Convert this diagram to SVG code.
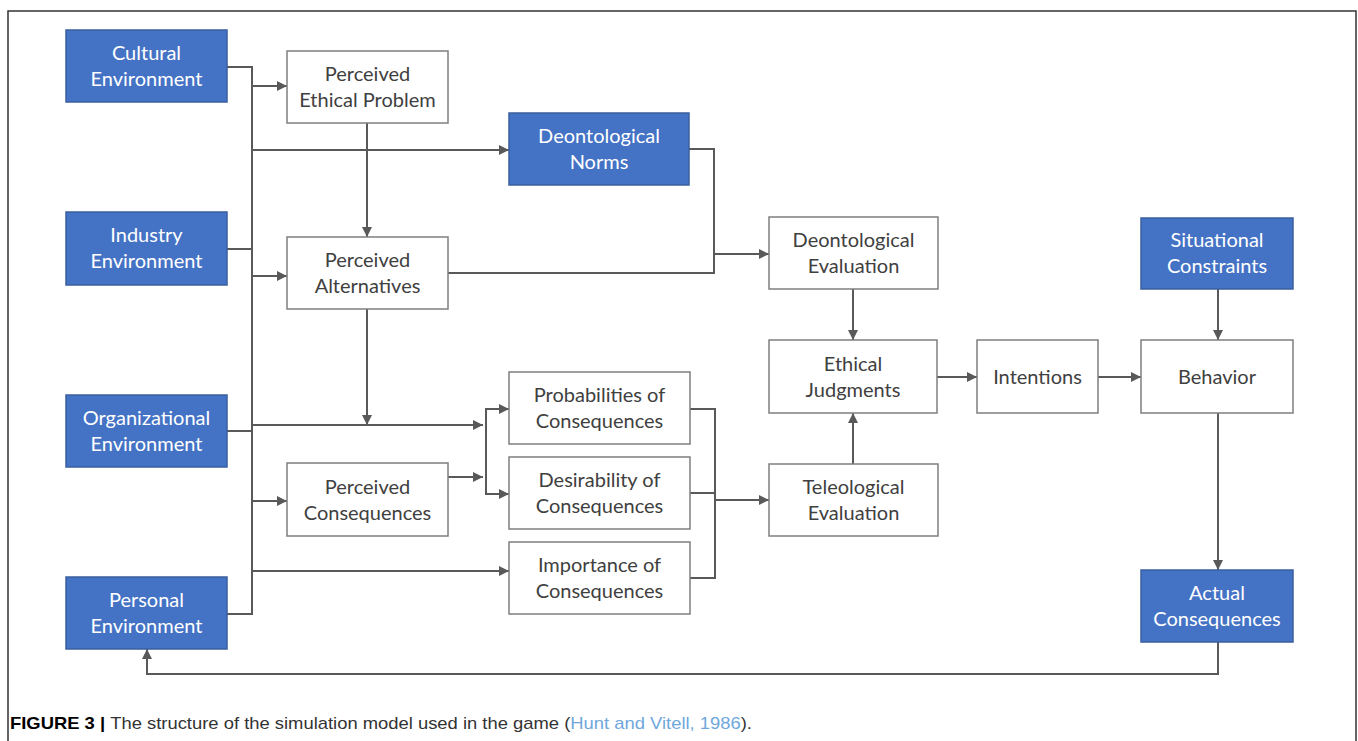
<svg xmlns="http://www.w3.org/2000/svg" width="1358" height="741" viewBox="0 0 1358 741">
<style>
.b rect{fill:#4472C4;stroke:#3a5f9f;stroke-width:1.5}
.w rect{fill:#fff;stroke:#7f7f7f;stroke-width:1.5}
.b text{fill:#fff}
.w text{fill:#404040}
text{font-family:Lato,"Open Sans",sans-serif;font-size:20px;text-anchor:middle}
#conn path{fill:none;stroke:#595959;stroke-width:2}
.cap{font-family:"Liberation Sans",Arial,sans-serif;font-size:17px;text-anchor:start}
</style>
<defs>
<marker id="ah" viewBox="0 0 10 10" refX="10" refY="5" markerWidth="5" markerHeight="5" orient="auto" markerUnits="strokeWidth">
<path d="M0,0 L10,5 L0,10 z" fill="#595959"/>
</marker>
</defs>
<rect x="8" y="11" width="1348" height="760" fill="#fff" stroke="#333" stroke-width="1.5"/>

<g id="conn">
<path d="M227,67 H252 V614 H227"/>
<path d="M227,249 H252"/>
<path d="M227,431 H252"/>
<path d="M252,86 H287" marker-end="url(#ah)"/>
<path d="M252,150 H509" marker-end="url(#ah)"/>
<path d="M252,276 H287" marker-end="url(#ah)"/>
<path d="M252,425 H483" marker-end="url(#ah)"/>
<path d="M252,501 H287" marker-end="url(#ah)"/>
<path d="M252,571 H509" marker-end="url(#ah)"/>
<path d="M367,123 V237" marker-end="url(#ah)"/>
<path d="M367,309 V425" marker-end="url(#ah)"/>
<path d="M448,477 H483" marker-end="url(#ah)"/>
<path d="M509,409 H486 V494 H509" marker-end="url(#ah)"/>
<path d="M486,409 H509" marker-end="url(#ah)"/>
<path d="M690,409 H715 V578 H690"/>
<path d="M690,493 H715"/>
<path d="M715,500 H769" marker-end="url(#ah)"/>
<path d="M689,149 H714 V273 H448"/>
<path d="M714,254 H769" marker-end="url(#ah)"/>
<path d="M853,289 V340" marker-end="url(#ah)"/>
<path d="M853,464 V413" marker-end="url(#ah)"/>
<path d="M937,377 H977" marker-end="url(#ah)"/>
<path d="M1098,377 H1141" marker-end="url(#ah)"/>
<path d="M1218,289 V340" marker-end="url(#ah)"/>
<path d="M1218,413 V570" marker-end="url(#ah)"/>
<path d="M1218,642 V674 H147 V649" marker-end="url(#ah)"/>
</g>

<g id="cultural" class="b"><rect x="66" y="30" width="161" height="72"/><text x="146.5" y="60">Cultural</text><text x="146.5" y="86">Environment</text></g>
<g id="industry" class="b"><rect x="66" y="212" width="161" height="73"/><text x="146.5" y="242">Industry</text><text x="146.5" y="268">Environment</text></g>
<g id="organizational" class="b"><rect x="66" y="395" width="161" height="72"/><text x="146.5" y="425">Organizational</text><text x="146.5" y="451">Environment</text></g>
<g id="personal" class="b"><rect x="66" y="577" width="161" height="72"/><text x="146.5" y="607">Personal</text><text x="146.5" y="633">Environment</text></g>

<g id="ethicalProblem" class="w"><rect x="287" y="51" width="161" height="72"/><text x="367.5" y="81">Perceived</text><text x="367.5" y="107">Ethical Problem</text></g>
<g id="alternatives" class="w"><rect x="287" y="237" width="161" height="72"/><text x="367.5" y="267">Perceived</text><text x="367.5" y="293">Alternatives</text></g>
<g id="perceivedConsequences" class="w"><rect x="287" y="463" width="161" height="73"/><text x="367.5" y="494">Perceived</text><text x="367.5" y="520">Consequences</text></g>

<g id="deontologicalNorms" class="b"><rect x="509" y="113" width="180" height="72"/><text x="599" y="143">Deontological</text><text x="599" y="169">Norms</text></g>
<g id="probabilities" class="w"><rect x="509" y="372" width="181" height="72"/><text x="599.5" y="402">Probabilities of</text><text x="599.5" y="428">Consequences</text></g>
<g id="desirability" class="w"><rect x="509" y="457" width="181" height="72"/><text x="599.5" y="487">Desirability of</text><text x="599.5" y="513">Consequences</text></g>
<g id="importance" class="w"><rect x="509" y="542" width="181" height="72"/><text x="599.5" y="572">Importance of</text><text x="599.5" y="598">Consequences</text></g>

<g id="deontologicalEvaluation" class="w"><rect x="769" y="217" width="169" height="72"/><text x="853.5" y="247">Deontological</text><text x="853.5" y="273">Evaluation</text></g>
<g id="ethicalJudgments" class="w"><rect x="769" y="340" width="168" height="73"/><text x="853" y="371">Ethical</text><text x="853" y="397">Judgments</text></g>
<g id="teleological" class="w"><rect x="769" y="464" width="169" height="72"/><text x="853.5" y="494">Teleological</text><text x="853.5" y="520">Evaluation</text></g>
<g id="intentions" class="w"><rect x="977" y="340" width="121" height="73"/><text x="1037.5" y="384">Intentions</text></g>

<g id="situational" class="b"><rect x="1141" y="218" width="152" height="71"/><text x="1217" y="247">Situational</text><text x="1217" y="273">Constraints</text></g>
<g id="behavior" class="w"><rect x="1141" y="340" width="152" height="73"/><text x="1217" y="384">Behavior</text></g>
<g id="actual" class="b"><rect x="1141" y="570" width="152" height="72"/><text x="1217" y="600">Actual</text><text x="1217" y="626">Consequences</text></g>

<text class="cap" x="10" y="729" textLength="742" lengthAdjust="spacingAndGlyphs"><tspan font-weight="bold" fill="#000">FIGURE 3 | </tspan><tspan fill="#333">The structure of the simulation model used in the game (</tspan><tspan fill="#6fa8dc">Hunt and Vitell, 1986</tspan><tspan fill="#333">).</tspan></text>
</svg>
